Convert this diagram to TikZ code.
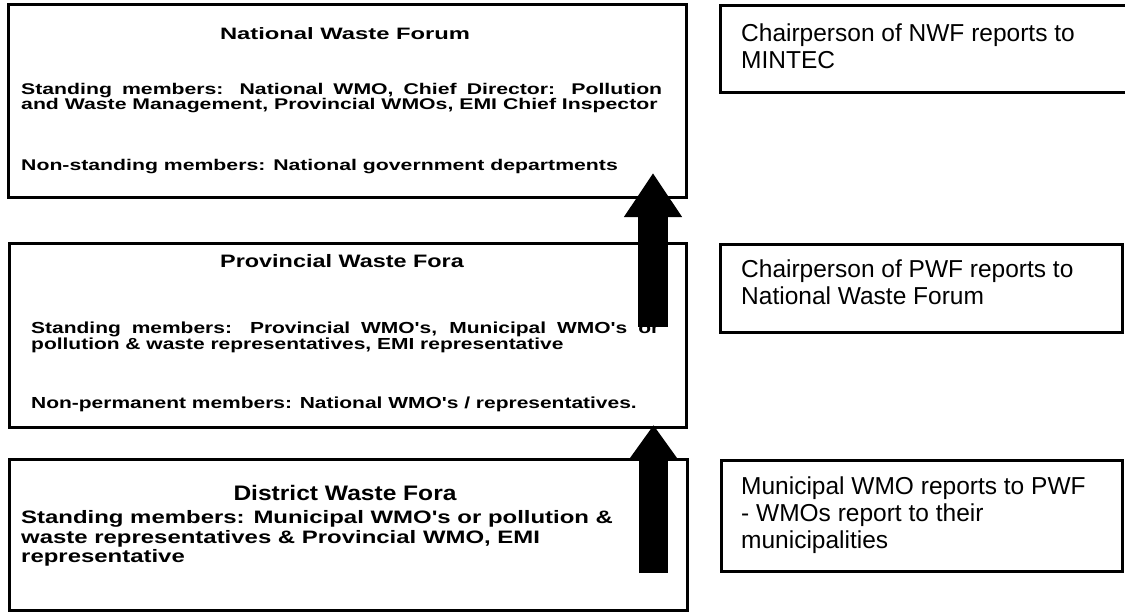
\documentclass[tikz,border=0pt]{standalone}
\usepackage{fontspec}
\setmainfont{Liberation Sans}
\newfontfamily\fNT[FakeStretch=1.44]{Liberation Sans}
\newfontfamily\fNB[FakeStretch=1.37]{Liberation Sans}
\newfontfamily\fPT[FakeStretch=1.30]{Liberation Sans}
\newfontfamily\fPB[FakeStretch=1.31]{Liberation Sans}
\newfontfamily\fDT[FakeStretch=1.17]{Liberation Sans}
\newfontfamily\fDB[FakeStretch=1.33]{Liberation Sans}
\usetikzlibrary{arrows.meta}
\begin{document}
\begin{tikzpicture}[x=1pt,y=-1pt,
  box/.style={draw=black,line width=3pt,rectangle,anchor=north west,inner sep=0pt},
  txt/.style={inner sep=0pt,anchor=base west,text=black},
  ttl/.style={inner sep=0pt,anchor=base,text=black},
  NT/.style={font=\fNT\bfseries\fontsize{16.5}{16}\selectfont},
  NB/.style={font=\fNB\bfseries\fontsize{15.5}{13}\selectfont},
  PT/.style={font=\fPT\bfseries\fontsize{18}{18}\selectfont},
  PB/.style={font=\fPB\bfseries\fontsize{16}{14}\selectfont},
  DT/.style={font=\fDT\bfseries\fontsize{21}{21}\selectfont},
  DB/.style={font=\fDB\bfseries\fontsize{18}{20}\selectfont},
  RT/.style={font=\fontsize{24.5}{27}\selectfont},
  blockarrow/.style={draw=black,line width=30pt,line cap=butt,-{Triangle[length=44pt,width=55pt]}},
  blockarrowB/.style={draw=black,line width=29pt,line cap=butt,-{Triangle[length=34pt,width=46pt]}}
]
\useasboundingbox (0,0) rectangle (1125,613);
\fill[white] (0,0) rectangle (1125,613);

% left boxes
\node[box,minimum width=678pt,minimum height=193pt] (N) at (7,3) {};
\node[box,minimum width=677pt,minimum height=184pt] (P) at (8,242) {};
\node[box,minimum width=678pt,minimum height=151pt] (D) at (8,458) {};

% right boxes
\node[box,minimum width=412pt,minimum height=87pt] (R1) at (719,4) {};
\node[box,minimum width=402pt,minimum height=88pt] (R2) at (719,243) {};
\node[box,minimum width=401pt,minimum height=111pt] (R3) at (720,459) {};

% National text
\node[ttl,NT] (nt) at (345,39) {National Waste Forum};
\node[txt,NB] (n1) at (21,94) {\makebox[641pt][s]{Standing members: National WMO, Chief Director: Pollution}};
\node[txt,NB] (n2) at (21,109) {and Waste Management, Provincial WMOs, EMI Chief Inspector};
\node[txt,NB] (n3) at (21,170) {Non-standing members: National government departments};

% Provincial text
\node[ttl,PT] (pt) at (342,267) {Provincial Waste Fora};
\node[txt,PB] (p1) at (31,333) {\makebox[628pt][s]{Standing members: Provincial WMO's, Municipal WMO's or}};
\node[txt,PB] (p2) at (31,349) {pollution \& waste representatives, EMI representative};
\node[txt,PB] (p3) at (31,408) {Non-permanent members: National WMO's / representatives.};

% District text
\node[ttl,DT] (dt) at (345,500) {District Waste Fora};
\node[txt,DB] (d1) at (21,523) {Standing members: Municipal WMO's or pollution \&};
\node[txt,DB] (d2) at (21,543) {waste representatives \& Provincial WMO, EMI};
\node[txt,DB] (d3) at (21,562) {representative};

% right texts
\node[txt,RT] (r1a) at (741,41) {Chairperson of NWF reports to};
\node[txt,RT] (r1b) at (741,68) {MINTEC};
\node[txt,RT] (r2a) at (741,277) {Chairperson of PWF reports to};
\node[txt,RT] (r2b) at (741,304) {National Waste Forum};
\node[txt,RT] (r3a) at (741,494) {Municipal WMO reports to PWF};
\node[txt,RT] (r3b) at (741,521) {- WMOs report to their};
\node[txt,RT] (r3c) at (741,548) {municipalities};

% block arrows
\coordinate (a1s) at (653,327);
\coordinate (a1e) at (653,173);
\coordinate (a2s) at (653.5,573);
\coordinate (a2e) at (653.5,425);
\draw[blockarrow] (a1s) -- (a1e);
\draw[blockarrowB] (a2s) -- (a2e);
\end{tikzpicture}
\end{document}
